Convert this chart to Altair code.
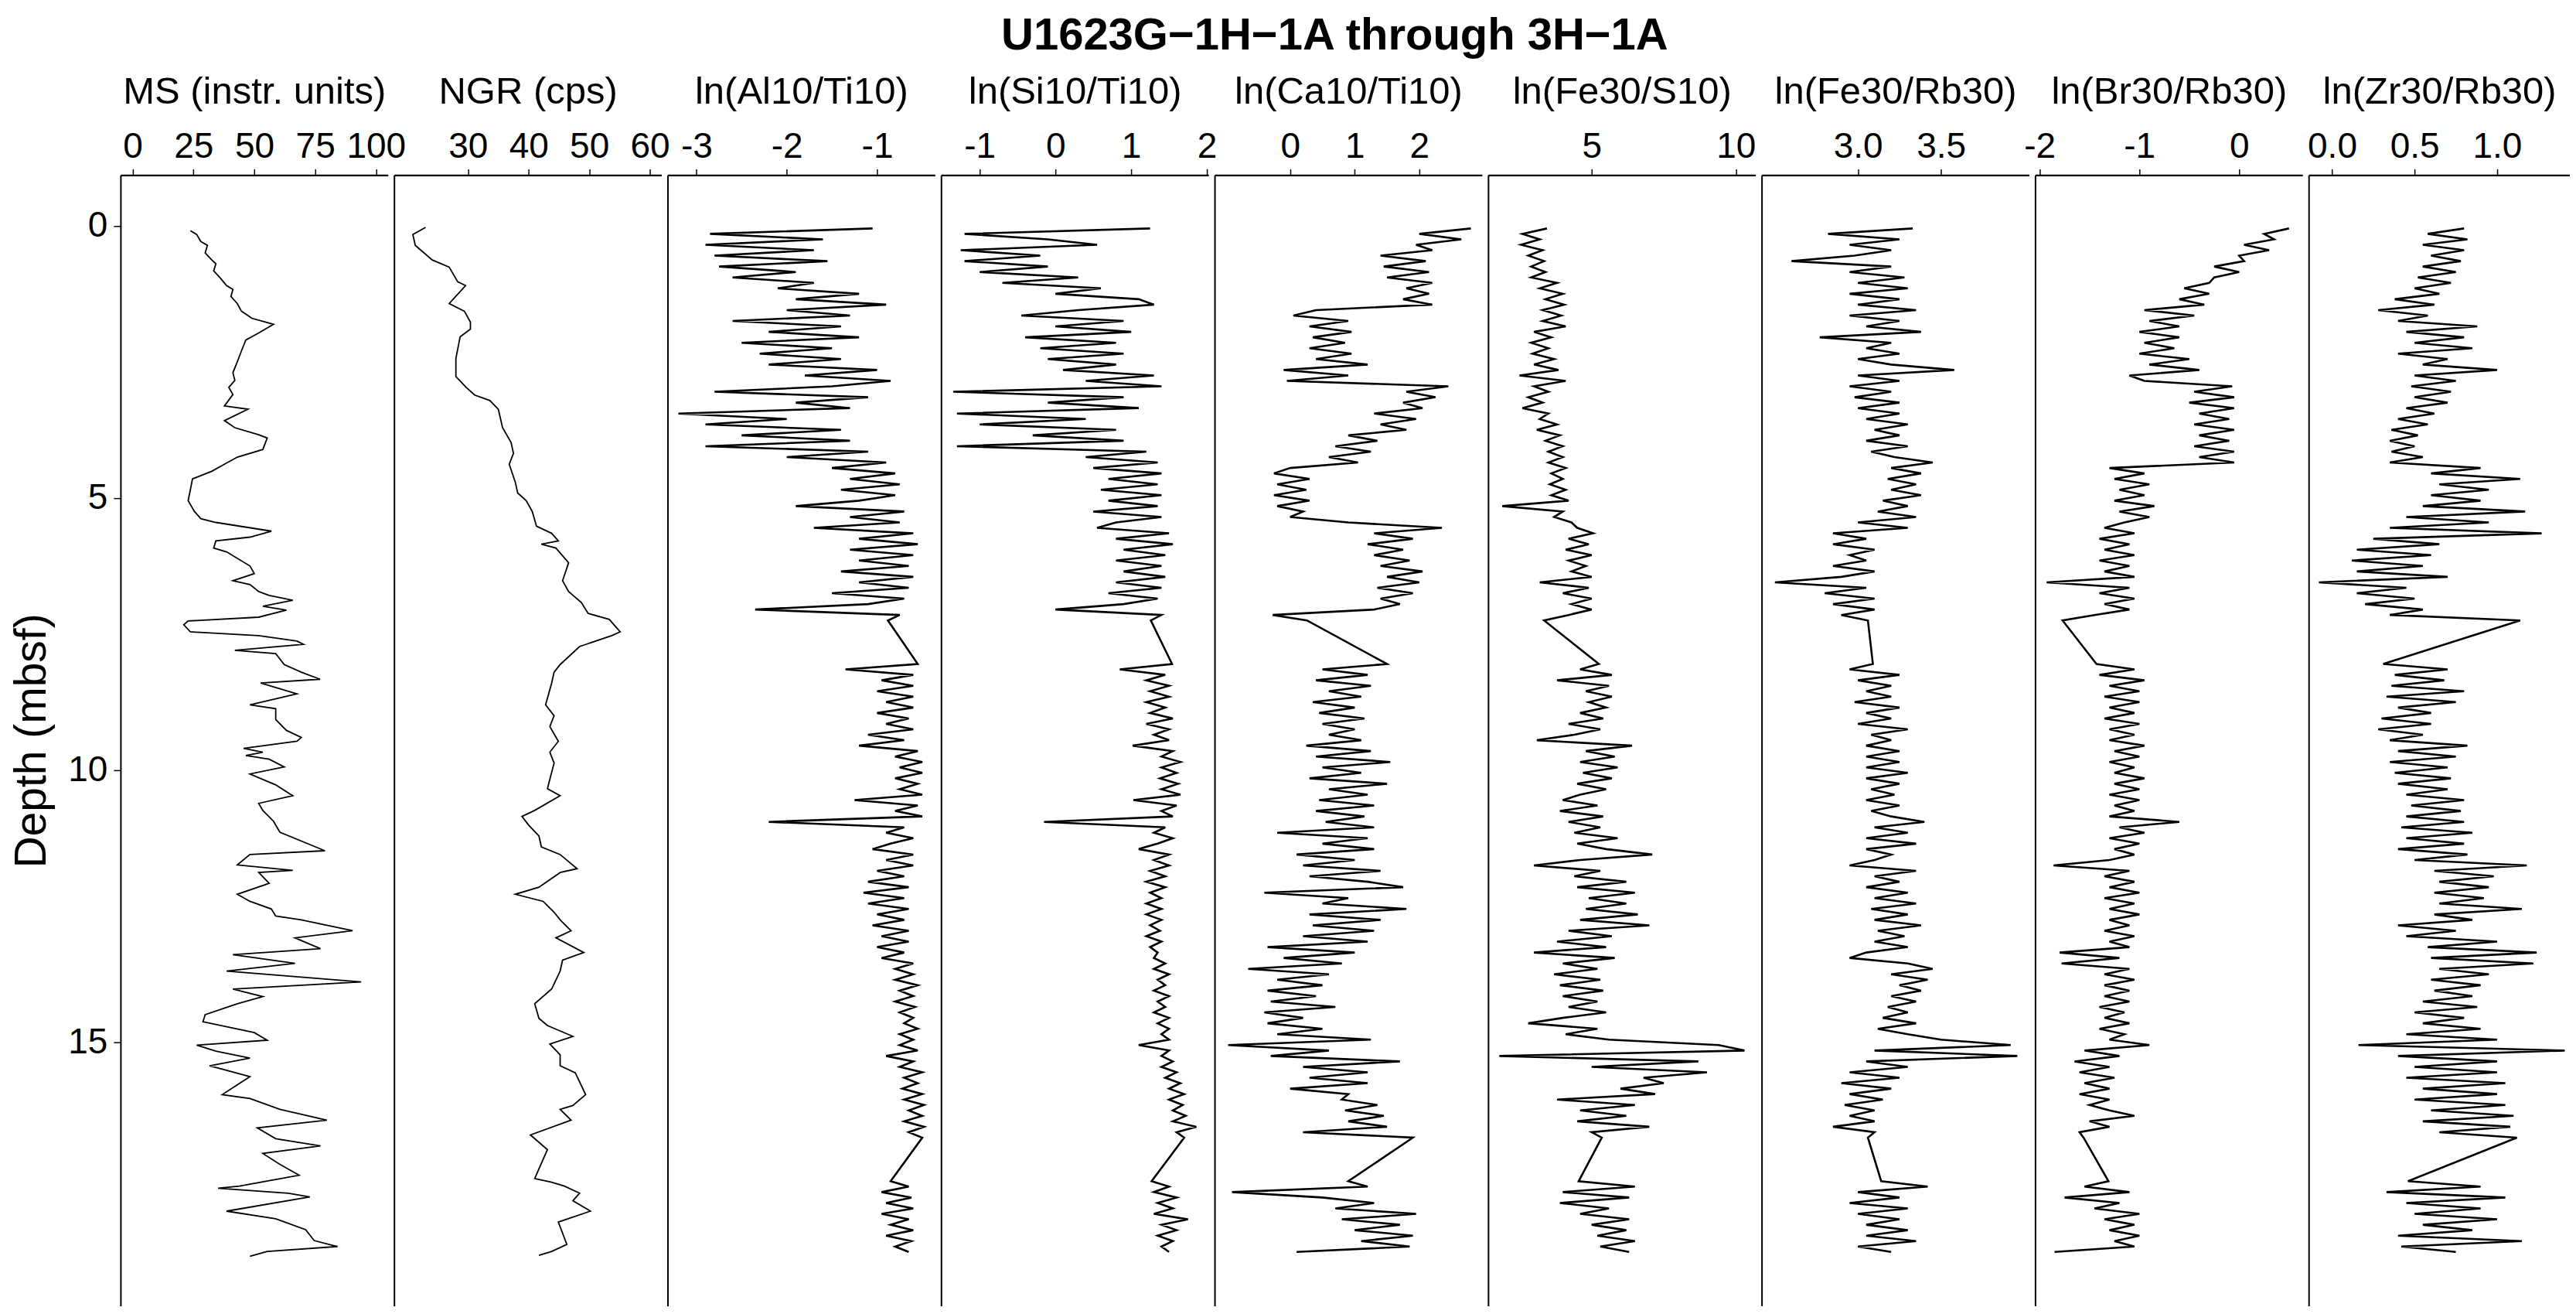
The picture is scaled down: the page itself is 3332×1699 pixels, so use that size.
import altair as alt
import pandas as pd

FONT = "Liberation Sans"
MINUS_FIX = "replace(datum.label, '\u2212', '-')"

# shipboard track data: MS and NGR
ms_depth = [0.09, 0.16, 0.29, 0.36, 0.5, 0.63, 0.7, 0.83, 0.96, 1.1,
            1.17, 1.3, 1.43, 1.57, 1.7, 1.81, 1.97, 2.1, 2.3, 2.5,
            2.7, 2.84, 2.97, 3.1, 3.31, 3.37, 3.58, 3.71, 3.84, 3.9,
            4.11, 4.25, 4.38, 4.51, 4.65, 4.85, 5.05, 5.25, 5.38, 5.45,
            5.61, 5.72, 5.79, 5.92, 5.99, 6.25, 6.39, 6.52, 6.59, 6.72,
            6.79, 6.88, 6.99, 7.06, 7.19, 7.26, 7.33, 7.46, 7.53, 7.63,
            7.69, 7.8, 7.86, 8.06, 8.2, 8.33, 8.4, 8.6, 8.8, 8.87,
            9.07, 9.27, 9.4, 9.47, 9.6, 9.67, 9.73, 9.8, 9.94, 10.07,
            10.27, 10.47, 10.61, 10.74, 10.94, 11.14, 11.48, 11.55, 11.74, 11.84,
            11.88, 12.08, 12.28, 12.41, 12.55, 12.68, 12.75, 12.95, 13.08, 13.28,
            13.39, 13.55, 13.69, 13.89, 14.02, 14.16, 14.29, 14.49, 14.62, 14.82,
            14.96, 15.05, 15.16, 15.29, 15.43, 15.49, 15.63, 15.96, 16.03, 16.23,
            16.43, 16.57, 16.77, 16.9, 17.04, 17.24, 17.44, 17.64, 17.68, 17.77,
            17.84, 18.1, 18.24, 18.44, 18.64, 18.75, 18.84, 18.93]
ms_val = [23.7, 26.3, 28, 30.7, 29.8, 32.5, 34.2, 33.3, 36, 38.6,
          41.2, 40.4, 43, 44.7, 49, 57.9, 51.8, 46.5, 44.7, 43,
          41.2, 42, 39.5, 41.2, 37.7, 47.4, 37.7, 42, 51.8, 55.3,
          53.5, 43, 37.7, 32.5, 24.6, 23.7, 22.8, 25.4, 28, 34.2,
          57, 48.2, 34.2, 33.3, 38.6, 48.2, 50, 41.2, 48.2, 51.8,
          56.1, 65.8, 53.5, 63.2, 51.8, 22.8, 21, 23.7, 51.8, 67.5,
          70.2, 42, 58.8, 62.3, 69.3, 77, 52.6, 67.5, 48.2, 58.8,
          58.8, 63.2, 69.3, 67.5, 45.6, 53.5, 46.5, 56.1, 62.3, 48.2,
          58.8, 65.8, 51.8, 53.5, 57.9, 60.5, 79, 48.2, 43, 65.8,
          51.8, 56.1, 43, 48.2, 57, 58.8, 69.3, 90.4, 66.7, 77.2,
          41.2, 66.7, 38.6, 93.9, 41.2, 53.5, 43, 29.8, 28.9, 50,
          55.3, 26.3, 34.2, 48.2, 31.6, 36.8, 48.2, 36.8, 48.2, 60.5,
          79.8, 51.2, 58.8, 77.2, 53.5, 60.5, 68.4, 43.9, 35.1, 64,
          72.8, 38.6, 58.8, 71.1, 74.6, 84.2, 55.3, 48.2]

ngr_depth = [0.03, 0.16, 0.36, 0.63, 0.76, 1.03, 1.1, 1.43, 1.57, 1.77,
             1.9, 2.04, 2.44, 2.77, 2.97, 3.11, 3.21, 3.37, 3.71, 3.98,
             4.18, 4.38, 4.71, 4.91, 5.05, 5.25, 5.52, 5.65, 5.79, 5.85,
             5.92, 6.19, 6.52, 6.72, 6.92, 7.12, 7.23, 7.46, 7.53, 7.73,
             8.06, 8.2, 8.4, 8.8, 9.0, 9.2, 9.47, 9.67, 9.87, 10.34,
             10.47, 10.74, 10.85, 11.01, 11.21, 11.41, 11.55, 11.81, 11.88, 12.15,
             12.28, 12.41, 12.61, 12.75, 12.95, 13.08, 13.35, 13.49, 13.69, 14.02,
             14.29, 14.56, 14.69, 14.89, 15.03, 15.23, 15.43, 15.56, 15.96, 16.16,
             16.23, 16.43, 16.7, 16.97, 17.5, 17.57, 17.64, 17.77, 17.91, 18.1,
             18.3, 18.71, 18.84, 18.91]
ngr_val = [23.0, 20.9, 21.3, 24.1, 26.9, 28.3, 29.6, 26.9, 29.4, 30.4,
           30.4, 28.7, 28, 28, 29.7, 31.1, 33.6, 35, 35.7, 37.1,
           37.5, 36.8, 37.8, 38.2, 39.6, 40.6, 41.3, 43.8, 44.9, 42.1,
           44.5, 46.6, 45.6, 46.6, 48.7, 49.8, 53.3, 55.1, 53.7, 48.4,
           45.2, 44.2, 43.8, 42.8, 44.2, 43.5, 44.9, 43.5, 44.2, 43.1,
           45.2, 41, 38.9, 40, 41.7, 42.1, 45.2, 48, 45.2, 41.7,
           37.8, 42.4, 44.2, 45.2, 47, 44.5, 49.1, 45.6, 45.2, 43.8,
           41, 41.7, 43.1, 47.3, 43.5, 45.2, 45.2, 47.7, 49.4, 47.3,
           45.2, 47, 40.3, 43.1, 41, 43.8, 45.9, 48.4, 47.3, 50.2,
           44.9, 46.3, 43.8, 41.7]

# XRF scanner depths (three cores, gaps bridged by the line)
xrf_depth = [0.05, 0.15, 0.25, 0.35, 0.45, 0.55, 0.65, 0.75, 0.85, 0.95,
             1.05, 1.15, 1.25, 1.35, 1.45, 1.55, 1.65, 1.75, 1.85, 1.95,
             2.05, 2.15, 2.25, 2.35, 2.45, 2.55, 2.65, 2.75, 2.85, 2.95,
             3.05, 3.15, 3.25, 3.35, 3.45, 3.55, 3.65, 3.75, 3.85, 3.95,
             4.05, 4.15, 4.25, 4.35, 4.45, 4.55, 4.65, 4.75, 4.85, 4.95,
             5.05, 5.15, 5.25, 5.35, 5.45, 5.55, 5.65, 5.75, 5.85, 5.95,
             6.05, 6.15, 6.25, 6.35, 6.45, 6.55, 6.65, 6.75, 6.85, 6.95,
             7.05, 7.15, 7.25,
             8.05, 8.15, 8.25, 8.35, 8.45, 8.55, 8.65, 8.75, 8.85, 8.95,
             9.05, 9.15, 9.25, 9.35, 9.45, 9.55, 9.65, 9.75, 9.85, 9.95,
             10.05, 10.15, 10.25, 10.35, 10.45, 10.55, 10.65, 10.75, 10.85, 10.95,
             11.05, 11.15, 11.25, 11.35, 11.45, 11.55, 11.65, 11.75, 11.85, 11.95,
             12.05, 12.15, 12.25, 12.35, 12.45, 12.55, 12.65, 12.75, 12.85, 12.95,
             13.05, 13.15, 13.25, 13.35, 13.45, 13.55, 13.65, 13.75, 13.85, 13.95,
             14.05, 14.15, 14.25, 14.35, 14.45, 14.55, 14.65, 14.75, 14.85, 14.95,
             15.05, 15.15, 15.25, 15.35, 15.45, 15.55, 15.65, 15.75, 15.85, 15.95,
             16.05, 16.15, 16.25, 16.35, 16.45, 16.55, 16.65, 16.75,
             17.55, 17.65, 17.75, 17.85, 17.95,
             18.05, 18.15, 18.25, 18.35, 18.45, 18.55, 18.65, 18.75, 18.85]

al_ti = [-1.05, -2.85, -1.6, -2.9, -1.7, -2.8, -1.55, -2.75, -1.9, -2.6,
         -1.7, -2.1, -1.2, -1.9, -0.9, -2.0, -1.3, -2.6, -1.4, -2.2,
         -1.2, -2.5, -1.5, -2.3, -1.4, -2.2, -1.0, -1.8, -0.85, -1.5,
         -2.8, -1.1, -1.9, -1.3, -3.2, -2.0, -2.9, -1.4, -2.5, -1.3,
         -2.9, -1.1, -2.0, -0.9, -1.5, -0.8, -1.3, -0.75, -1.4, -0.8,
         -1.2, -1.9, -0.7, -1.3, -0.75, -1.7, -0.6, -1.2, -0.55, -1.3,
         -0.6, -1.2, -0.65, -1.4, -0.6, -1.2, -0.65, -1.5, -0.7, -1.1,
         -2.35, -0.75, -0.88,
         -0.55, -1.35, -0.6, -0.95, -0.6, -1.0, -0.6, -0.9, -0.6, -1.0,
         -0.65, -0.9, -0.6, -1.1, -0.7, -1.2, -0.55, -0.8, -0.5, -0.75,
         -0.5, -0.8, -0.55, -0.75, -0.5, -1.25, -0.55, -0.8, -0.5, -2.2,
         -0.7, -0.9, -0.6, -0.85, -1.05, -0.6, -0.9, -0.6, -1.0, -0.7,
         -1.1, -0.65, -1.15, -0.7, -1.1, -0.65, -1.0, -0.7, -1.05, -0.65,
         -0.95, -0.65, -1.0, -0.7, -0.95, -0.6, -0.8, -0.6, -0.8, -0.55,
         -0.75, -0.6, -0.8, -0.58, -0.75, -0.6, -0.7, -0.55, -0.75, -0.6,
         -0.75, -0.55, -0.9, -0.6, -0.75, -0.5, -0.7, -0.55, -0.72, -0.5,
         -0.7, -0.48, -0.65, -0.5, -0.7, -0.48, -0.65, -0.5,
         -0.85, -0.65, -0.95, -0.62, -0.9,
         -0.6, -0.95, -0.65, -0.85, -0.6, -0.9, -0.62, -0.8, -0.65]

si_ti = [1.25, -1.2, -0.1, 0.55, -1.25, -0.2, -1.2, -0.1, -1.0, 0.3,
         -0.7, 0.6, 0.0, 1.1, 1.3, 0.3, -0.45, 0.9, 0.0, 1.0,
         -0.4, 0.8, -0.2, 0.9, -0.1, 0.8, 0.1, 1.3, 0.4, 1.4,
         -1.35, 0.9, -0.1, 1.1, -1.3, 0.4, -1.0, 0.8, -0.3, 0.9,
         -1.3, 1.2, 0.4, 1.35, 0.5, 1.4, 0.7, 1.35, 0.6, 1.4,
         0.7, 1.35, 0.5, 1.4, 0.8, 0.55, 1.5, 0.8, 1.55, 0.9,
         1.45, 0.8, 1.4, 0.9, 1.45, 0.8, 1.4, 0.7, 1.35, 0.9,
         0.0, 1.4, 1.26,
         1.54, 0.85, 1.45, 1.2, 1.5, 1.25, 1.5, 1.2, 1.45, 1.25,
         1.55, 1.2, 1.5, 1.3, 1.5, 1.02, 1.55, 1.4, 1.65, 1.4,
         1.6, 1.38, 1.62, 1.4, 1.65, 1.03, 1.6, 1.4, 1.55, -0.15,
         1.45, 1.3, 1.55, 1.35, 1.1, 1.5, 1.3, 1.5, 1.25, 1.45,
         1.2, 1.45, 1.25, 1.4, 1.2, 1.4, 1.2, 1.4, 1.25, 1.38,
         1.2, 1.4, 1.25, 1.35, 1.3, 1.45, 1.3, 1.5, 1.35, 1.45,
         1.3, 1.5, 1.35, 1.45, 1.3, 1.5, 1.35, 1.5, 1.4, 1.5,
         1.1, 1.5, 1.4, 1.55, 1.4, 1.6, 1.45, 1.65, 1.5, 1.7,
         1.5, 1.68, 1.55, 1.72, 1.55, 1.86, 1.6, 1.7,
         1.27, 1.5, 1.3, 1.6, 1.35,
         1.55, 1.3, 1.75, 1.4, 1.6, 1.35, 1.55, 1.4, 1.5]

ca_ti = [2.8, 2.0, 2.65, 1.95, 2.2, 1.4, 2.1, 1.45, 2.15, 1.5,
         2.2, 1.8, 2.15, 1.75, 2.2, 0.4, 0.05, 0.9, 0.3, 0.95,
         0.35, 0.85, 0.3, 0.95, 0.4, 1.2, -0.1, 0.9, -0.05, 2.45,
         1.8, 2.25, 1.75, 2.05, 1.3, 1.95, 1.4, 1.8, 0.9, 1.35,
         0.7, 1.25, 0.6, 1.05, 0.0, -0.25, 0.3, -0.2, 0.25, -0.25,
         0.3, -0.2, 0.2, 0.0, 0.9, 2.35, 1.3, 1.9, 1.2, 1.75,
         1.3, 1.85, 1.4, 2.05, 1.5, 2.0, 1.35, 1.9, 1.4, 1.7,
         1.3, -0.27, 0.26,
         1.5, 0.5, 1.2, 0.4, 1.25, 0.6, 1.1, 0.35, 1.0, 0.45,
         1.15, 0.5, 1.0, 0.6, 1.1, 0.25, 1.25, 0.4, 1.55, 0.5,
         1.1, 0.3, 1.5, 0.6, 1.2, 0.45, 1.3, 0.4, 1.15, 0.55,
         1.3, -0.2, 1.2, 0.5, 1.3, 0.1, 1.0, 0.2, 1.4, 0.3,
         1.2, 1.75, -0.4, 0.9, 0.5, 1.8, 0.3, 1.4, 0.35, 1.3,
         0.2, 1.2, -0.35, 1.0, -0.1, 0.8, -0.65, 0.6, -0.2, 0.5,
         -0.35, 0.4, -0.3, 0.7, -0.4, 0.2, -0.35, 0.5, -0.2, 1.25,
         -0.96, 0.6, -0.3, 1.7, 0.2, 1.2, 0.3, 1.2, 0.0, 0.9,
         0.8, 1.35, 0.85, 1.45, 0.9, 1.5, 0.2, 1.9,
         0.9, 1.2, -0.9, 0.5, 1.3,
         0.7, 1.95, 0.8, 1.7, 1.0, 1.9, 1.1, 1.85, 0.1]

fe_s = [3.45, 2.6, 3.2, 2.55, 3.3, 2.8, 3.35, 2.9, 3.4, 2.9,
        3.8, 3.2, 4.0, 3.4, 4.05, 3.3, 3.95, 3.3, 4.1, 3.0,
        3.6, 2.9, 3.5, 2.95, 3.7, 3.0, 3.85, 2.5, 4.1, 3.0,
        3.5, 2.8, 3.3, 2.6, 3.5, 3.2, 3.8, 3.1, 3.9, 3.4,
        4.0, 3.5, 4.0, 3.5, 4.1, 3.6, 4.0, 3.55, 4.1, 3.6,
        4.2, 1.9, 4.0, 3.7, 4.3, 4.5, 5.05, 4.2, 4.9, 4.1,
        5.0, 4.2, 4.8, 4.3, 5.0, 3.2, 4.9, 4.0, 5.0, 4.3,
        5.0, 4.2, 3.35,
        5.25, 4.6, 5.7, 3.8, 5.6, 4.8, 5.7, 4.9, 5.5, 4.6,
        5.4, 4.2, 5.3, 4.4, 3.1, 6.4, 4.8, 5.8, 4.6, 5.9,
        4.7, 5.7, 4.5, 5.5, 4.6, 4.0, 5.2, 3.9, 5.4, 4.2,
        5.3, 4.4, 5.9, 4.5, 5.5, 7.1, 4.6, 3.0, 5.3, 4.4,
        6.2, 4.5, 6.5, 4.9, 6.2, 4.8, 6.6, 4.6, 7.0, 4.2,
        5.7, 3.8, 5.5, 3.0, 5.8, 4.0, 5.2, 3.7, 5.3, 3.9,
        5.4, 4.0, 5.2, 4.2, 5.5, 4.0, 2.8, 5.2, 4.1, 5.6,
        9.4, 10.3, 1.8, 8.7, 5.0, 9.0, 6.8, 7.5, 6.0, 7.2,
        3.8, 6.5, 4.6, 6.2, 4.5, 7.0, 5.0, 5.35,
        4.55, 6.5, 4.0, 6.3, 3.9,
        5.6, 4.6, 6.3, 5.0, 6.2, 5.2, 6.5, 5.3, 6.3]

fe_rb = [3.33, 2.82, 3.25, 2.95, 3.2, 2.98, 2.6, 3.2, 2.95, 3.28,
         3.0, 3.3, 2.95, 3.25, 3.0, 3.35, 2.95, 3.25, 3.05, 3.38,
         2.77, 3.2, 3.05, 3.25, 3.0, 3.2, 3.58, 3.0, 3.25, 2.95,
         3.2, 2.98, 3.25, 3.0, 3.25, 3.05, 3.3, 3.1, 3.25, 3.05,
         3.3, 3.08, 3.22, 3.45, 3.2, 3.38, 3.18, 3.35, 3.2, 3.38,
         3.15, 3.3, 3.12, 3.35, 3.0, 3.3, 2.85, 3.05, 2.85, 3.1,
         2.95, 3.05, 2.85, 3.1, 2.9, 2.5, 3.05, 2.8, 3.1, 2.85,
         3.1, 2.9, 3.06,
         3.09, 2.95, 3.25, 3.0, 3.2, 3.05, 3.2, 2.98, 3.25, 3.05,
         3.2, 3.0, 3.3, 3.08, 3.2, 3.05, 3.25, 3.05, 3.25, 3.05,
         3.3, 3.05, 3.25, 3.08, 3.22, 3.05, 3.25, 3.08, 3.2, 3.4,
         3.1, 3.3, 3.05, 3.35, 3.05, 3.2, 3.1, 2.95, 3.35, 3.1,
         3.25, 3.05, 3.3, 3.1, 3.35, 3.08, 3.3, 3.1, 3.38, 3.12,
         3.28, 3.1, 3.3, 3.05, 2.95, 3.3, 3.45, 3.2, 3.42, 3.25,
         3.38, 3.2, 3.35, 3.18, 3.3, 3.15, 3.35, 3.12, 3.3, 3.5,
         3.92, 3.1, 3.96, 3.05, 3.3, 2.95, 3.25, 2.9, 3.2, 2.95,
         3.15, 2.92, 3.1, 2.95, 3.1, 2.85, 3.1, 3.06,
         3.14, 3.42, 3.0, 3.25, 2.95,
         3.3, 3.0, 3.25, 3.05, 3.3, 3.05, 3.35, 3.0, 3.2]

br_rb = [0.5, 0.25, 0.35, 0.05, 0.3, 0.0, 0.05, -0.25, 0.0, -0.25,
         -0.3, -0.55, -0.3, -0.6, -0.35, -0.95, -0.45, -0.9, -0.6, -1.0,
         -0.6, -0.95, -0.65, -1.0, -0.5, -0.9, -0.4, -1.1, -0.95, -0.07,
         -0.45, -0.05, -0.5, -0.05, -0.4, -0.1, -0.45, -0.05, -0.4, -0.1,
         -0.45, -0.05, -0.4, -0.05, -1.3, -0.95, -1.25, -0.9, -1.2, -0.95,
         -1.25, -0.85, -1.2, -0.9, -1.15, -1.35, -1.05, -1.4, -1.1, -1.35,
         -1.05, -1.4, -1.1, -1.35, -1.05, -1.93, -1.1, -1.4, -1.05, -1.35,
         -1.1, -1.45, -1.77,
         -1.43, -1.05, -1.4, -0.95, -1.3, -1.0, -1.35, -1.0, -1.3, -1.05,
         -1.35, -1.0, -1.3, -1.05, -1.3, -0.95, -1.25, -1.0, -1.3, -1.05,
         -1.25, -0.95, -1.25, -1.0, -1.3, -1.0, -1.25, -1.05, -1.3, -0.6,
         -1.2, -0.95, -1.3, -1.0, -1.25, -1.05, -1.3, -1.86, -1.1, -1.35,
         -1.05, -1.3, -1.0, -1.35, -1.05, -1.3, -1.0, -1.3, -1.1, -1.35,
         -1.05, -1.3, -1.1, -1.8, -1.2, -1.78, -1.1, -1.35, -1.05, -1.35,
         -1.1, -1.35, -1.1, -1.4, -1.15, -1.35, -1.1, -1.4, -1.15, -1.3,
         -0.9, -1.55, -1.2, -1.65, -1.3, -1.6, -1.25, -1.55, -1.3, -1.6,
         -1.3, -1.5, -1.3, -1.05, -1.5, -1.3, -1.6, -1.56,
         -1.31, -1.55, -1.1, -1.75, -1.2,
         -1.45, -1.0, -1.35, -1.05, -1.3, -1.0, -1.25, -1.05, -1.85]

zr_rb = [0.8, 0.58, 0.82, 0.55, 0.8, 0.6, 0.78, 0.55, 0.75, 0.52,
         0.72, 0.5, 0.65, 0.38, 0.62, 0.28, 0.58, 0.4, 0.88, 0.45,
         0.8, 0.5, 0.85, 0.4, 0.7, 0.55, 1.0, 0.5, 0.75, 0.48,
         0.72, 0.5, 0.7, 0.45, 0.62, 0.4, 0.58, 0.36, 0.52, 0.35,
         0.5, 0.36, 0.55, 0.35, 0.9, 0.6, 1.14, 0.65, 0.95, 0.6,
         0.9, 0.55, 1.17, 0.45, 0.95, 0.35, 1.27, 0.25, 0.65, 0.15,
         0.6, 0.12, 0.55, 0.15, 0.7, -0.08, 0.45, 0.15, 0.5, 0.2,
         0.55, 0.35, 1.14,
         0.31, 0.7, 0.38, 0.68, 0.36, 0.8, 0.33, 0.75, 0.4, 0.6,
         0.3, 0.6, 0.28, 0.55, 0.35, 0.82, 0.4, 0.75, 0.35, 0.7,
         0.38, 0.72, 0.4, 0.7, 0.45, 0.8, 0.48, 0.78, 0.45, 0.8,
         0.42, 0.85, 0.45, 0.8, 0.4, 0.82, 0.5, 1.18, 0.62, 0.98,
         0.65, 0.95, 0.62, 0.92, 0.65, 1.15, 0.62, 0.85, 0.4, 0.75,
         0.45, 1.0, 0.58, 1.24, 0.6, 1.22, 0.65, 0.95, 0.6, 0.9,
         0.62, 0.85, 0.55, 0.88, 0.5, 0.8, 0.55, 0.9, 0.45, 1.0,
         0.16, 1.41, 0.4, 1.0, 0.5, 1.0, 0.45, 1.05, 0.55, 1.0,
         0.5, 1.05, 0.6, 1.1, 0.55, 1.08, 0.65, 1.12,
         0.46, 0.9, 0.33, 1.05, 0.45,
         0.9, 0.5, 1.0, 0.55, 0.85, 0.4, 1.15, 0.42, 0.75]

# (title, depths, values, x domain, tick values, tick format, panel width, line width)
panels = [
    ("MS (instr. units)", ms_depth, ms_val, [-5.0, 104.9], [0, 25, 50, 75, 100], "d", 346, 1.8),
    ("NGR (cps)", ngr_depth, ngr_val, [17.8, 61.9], [30, 40, 50, 60], "d", 346, 1.8),
    ("ln(Al10/Ti10)", xrf_depth, al_ti, [-3.32, -0.36], [-3, -2, -1], "d", 346, 2.6),
    ("ln(Si10/Ti10)", xrf_depth, si_ti, [-1.51, 2.02], [-1, 0, 1, 2], "d", 346, 2.6),
    ("ln(Ca10/Ti10)", xrf_depth, ca_ti, [-1.17, 2.97], [0, 1, 2], "d", 346, 2.6),
    ("ln(Fe30/S10)", xrf_depth, fe_s, [1.41, 10.68], [5, 10], "d", 346, 2.6),
    ("ln(Fe30/Rb30)", xrf_depth, fe_rb, [2.42, 4.03], [3.0, 3.5], ".1f", 346, 2.6),
    ("ln(Br30/Rb30)", xrf_depth, br_rb, [-2.045, 0.635], [-2, -1, 0], "d", 346, 2.6),
    ("ln(Zr30/Rb30)", xrf_depth, zr_rb, [-0.142, 1.441], [0.0, 0.5, 1.0], ".1f", 338, 2.6),
]

DEPTH_DOMAIN = [-0.93, 19.84]

charts = []
for i, (title, depth, vals, dom, ticks, fmt, w, lw) in enumerate(panels):
    df = pd.DataFrame({"depth": depth, "value": vals})
    if i == 0:
        yaxis = alt.Axis(title="Depth (mbsf)", values=[0, 5, 10, 15], format="d",
                         labelFontSize=46, titleFontSize=57, titleFontWeight="normal",
                         tickSize=9, tickWidth=1.5, labelPadding=8, titlePadding=17,
                         domainWidth=2, labelFlush=False, grid=False)
    else:
        yaxis = alt.Axis(title=None, labels=False, ticks=False, domain=True,
                         domainWidth=2, grid=False, minExtent=0)
    xaxis = alt.Axis(orient="top", title=title, values=ticks, format=fmt,
                     labelExpr=MINUS_FIX, labelFontSize=46, titleFontSize=49,
                     titleFontWeight="normal", tickSize=8, tickWidth=1.5,
                     labelPadding=5, titlePadding=23, domainWidth=2.2,
                     labelFlush=False, labelOverlap=False, grid=False)
    c = alt.Chart(df).mark_line(color="black", strokeWidth=lw, clip=True).encode(
        x=alt.X("value:Q", scale=alt.Scale(domain=dom, nice=False, zero=False), axis=xaxis),
        y=alt.Y("depth:Q", scale=alt.Scale(domain=DEPTH_DOMAIN, reverse=True, nice=False, zero=False),
                axis=yaxis),
        order="depth:Q",
    ).properties(width=w, height=1463)
    charts.append(c)

chart = alt.hconcat(*charts, spacing=8, bounds="flush").properties(
    title=alt.TitleParams("U1623G\u22121H\u22121A through 3H\u22121A", fontSize=58,
                          fontWeight="bold", anchor="middle", offset=18, dx=58),
    padding={"left": 4, "top": 10, "right": 0, "bottom": 0},
    background="white",
).configure_view(stroke=None).configure_axis(
    labelFont=FONT, titleFont=FONT, labelColor="black", titleColor="black",
    domainColor="black", tickColor="black",
).configure_title(font=FONT, color="black")

chart.save("out.html", embed_options={"renderer": "svg", "actions": False})
